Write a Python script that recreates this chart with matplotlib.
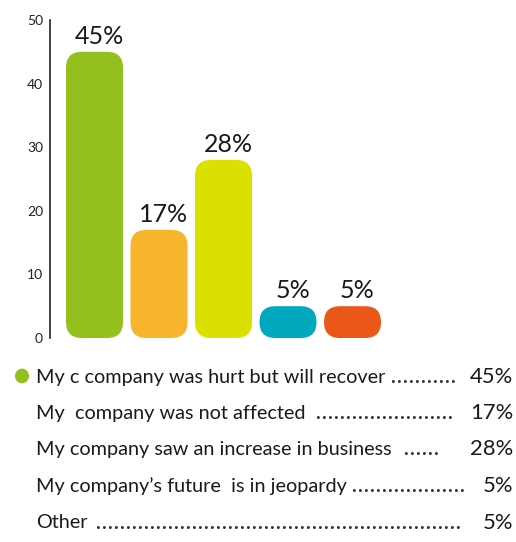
"""
Survey bar chart with rounded bars and a dotted-leader legend.
"""

import matplotlib
matplotlib.use('Agg')
import matplotlib.pyplot as plt
from matplotlib.patches import FancyBboxPatch, Circle

# Data
categories = [
    "My c company was hurt but will recover",
    "My  company was not affected",
    "My company saw an increase in business",
    "My company\u2019s future  is in jeopardy",
    "Other",
]
values = [45, 17, 28, 5, 5]
value_labels = ["45%", "17%", "28%", "5%", "5%"]
colors = ["#93C01F", "#F7B52E", "#DCE000", "#00A8BD", "#EB5716"]
y_ticks = [0, 10, 20, 30, 40, 50]

W, H = 516, 542
FONT = "Lato"
plt.rcParams['font.family'] = [FONT, 'DejaVu Sans']


def fx(px):
    return px / W


def fy(py):
    return 1 - py / H


fig = plt.figure(figsize=(W / 100, H / 100), dpi=100)

# Eje en coordenadas de pixel: spine a x=50, 0 en y=338, 50 en y=20
ax_left, ax_right, ax_top, ax_bottom = 50, 400, 20, 338
ax = fig.add_axes([fx(ax_left), fy(ax_bottom), fx(ax_right - ax_left),
                   (ax_bottom - ax_top) / H])
slot_px = 64.5
x_min = -44.5 / slot_px
x_max = x_min + (ax_right - ax_left) / slot_px
ax.set_xlim(x_min, x_max)
ax.set_ylim(0, 50)

for side in ['top', 'right', 'bottom']:
    ax.spines[side].set_visible(False)
ax.spines['left'].set_linewidth(1.2)
ax.spines['left'].set_color('#222222')
ax.set_xticks([])
ax.set_yticks(y_ticks)
ax.tick_params(axis='y', length=0, pad=5, labelsize=10, labelcolor='#222222')

# Barras redondeadas
px_per_x = (ax_right - ax_left) / (x_max - x_min)
px_per_y = (ax_bottom - ax_top) / 50
aspect = px_per_x / px_per_y
bar_w = 57 / slot_px
radius_px = 16

for i, (val, col, lab) in enumerate(zip(values, colors, value_labels)):
    h_px = val * px_per_y
    r_px = min(radius_px, h_px / 2)
    box = FancyBboxPatch(
        (i - bar_w / 2, 0), bar_w, val,
        boxstyle=f"round,pad=0,rounding_size={r_px / px_per_x}",
        mutation_aspect=aspect,
        facecolor=col, edgecolor='none', clip_on=False
    )
    ax.add_patch(box)
    ax.annotate(lab, (i, val), xytext=(3.5, 3), textcoords='offset points',
                ha='center', va='bottom', fontsize=18, color='#1a1a1a')

# Leyenda con puntos guía
row_y = [377, 413, 449, 486, 523]
leader_gap = [6, 11, 12, 5, 8]
leader_end = [455, 455, 437, 463, 463]
text_x = 36
value_x = 513
leg_size = 14.3
dot_unit = ".\u200a"

renderer = fig.canvas.get_renderer()
dot_probe = fig.text(0, 0, dot_unit * 20, fontsize=leg_size, fontweight='bold')
dot_w = dot_probe.get_window_extent(renderer).width / 20
dot_probe.remove()

for i, (cat, lab) in enumerate(zip(categories, value_labels)):
    t = fig.text(fx(text_x), fy(row_y[i]), cat, fontsize=leg_size,
                 ha='left', va='center', color='#1a1a1a')
    start_px = t.get_window_extent(renderer).x1 + leader_gap[i]
    n_dots = max(0, int(round((leader_end[i] - start_px) / dot_w)))
    fig.text(fx(start_px), fy(row_y[i]), (dot_unit * n_dots).rstrip(),
             fontsize=leg_size, fontweight='bold', ha='left', va='center',
             color='#333333')
    fig.text(fx(value_x), fy(row_y[i]), lab, fontsize=leg_size + 1.5,
             ha='right', va='center', color='#1a1a1a')

fig.patches.append(Circle((fx(22), fy(376)), 7 / W, transform=fig.transFigure,
                          facecolor=colors[0], edgecolor='none'))

fig.savefig('out.png', dpi=100)
